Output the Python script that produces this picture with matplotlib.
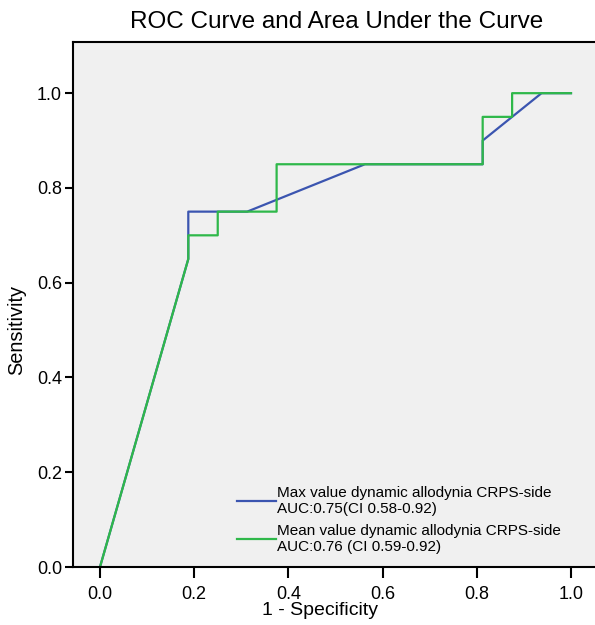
import matplotlib
matplotlib.use('Agg')
import matplotlib.pyplot as plt

# ROC points
max_fpr = [0.0, 0.1875, 0.1875, 0.3125, 0.5625, 0.8125, 0.8125, 0.9375, 1.0]
max_tpr = [0.0, 0.65, 0.75, 0.75, 0.85, 0.85, 0.90, 1.0, 1.0]
mean_fpr = [0.0, 0.1875, 0.1875, 0.25, 0.25, 0.375, 0.375, 0.8125, 0.8125, 0.875, 0.875, 1.0]
mean_tpr = [0.0, 0.65, 0.70, 0.70, 0.75, 0.75, 0.85, 0.85, 0.95, 0.95, 1.0, 1.0]

max_label = 'Max value dynamic allodynia CRPS-side\nAUC:0.75(CI 0.58-0.92)'
mean_label = 'Mean value dynamic allodynia CRPS-side\nAUC:0.76 (CI 0.59-0.92)'
ticks = [0.0, 0.2, 0.4, 0.6, 0.8, 1.0]

plt.rcParams['font.family'] = ['Liberation Sans', 'DejaVu Sans']

fig = plt.figure(figsize=(5.95, 6.25), dpi=100)
ax = fig.add_axes([73 / 595, 58 / 625, 527 / 595, 525 / 625])
ax.set_facecolor('#f0f0f0')

ax.plot(max_fpr, max_tpr, color='#3b55b0', lw=1.6, label=max_label)
ax.plot(mean_fpr, mean_tpr, color='#2fb84a', lw=1.6, label=mean_label)

ax.set_xlim(-0.0573, 1.0616)
ax.set_ylim(0, 1.108)
ax.set_xticks(ticks)
ax.set_yticks(ticks)
ax.set_xticklabels(['%.1f' % t for t in ticks])
ax.set_yticklabels(['%.1f' % t for t in ticks])
ax.tick_params(axis='x', length=8, width=1.5, labelsize=13, pad=6)
ax.tick_params(axis='y', length=6, width=1.5, labelsize=13, pad=2)
for s in ax.spines.values():
    s.set_linewidth(1.5)

ax.set_title('ROC Curve and Area Under the Curve', fontsize=17.5, pad=10)
ax.set_xlabel('1 - Specificity', fontsize=14)
ax.set_ylabel('Sensitivity', fontsize=14.4)
ax.xaxis.set_label_coords(0.469, -0.066)
ax.yaxis.set_label_coords(-0.089, 0.451)

ax.legend(loc='lower left', bbox_to_anchor=(158 / 527, 0.0125), frameon=False,
          fontsize=11, handlelength=2.55, handletextpad=0.07, labelspacing=0.55,
          borderaxespad=0)

fig.savefig('out.png', dpi=100)
